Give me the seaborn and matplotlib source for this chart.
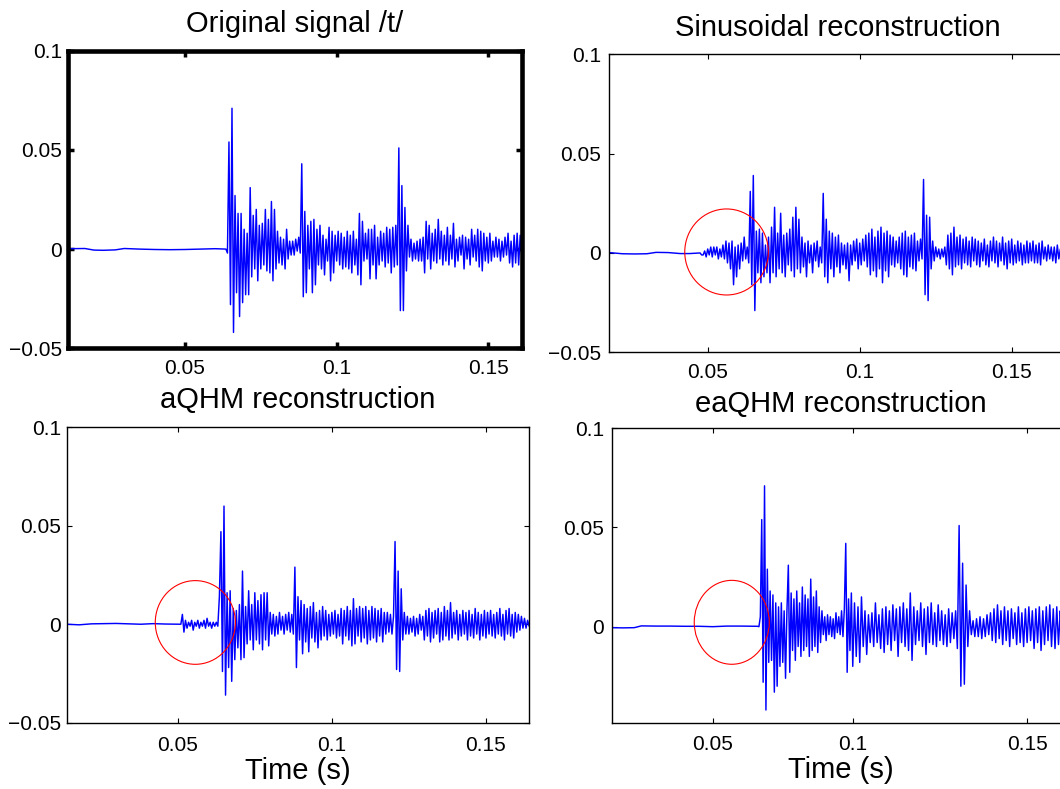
import numpy as np
import pandas as pd
import seaborn as sns
import matplotlib
matplotlib.use("Agg")
import matplotlib.pyplot as plt
from matplotlib.patches import Ellipse
from matplotlib.ticker import MultipleLocator, FuncFormatter

# ---------------------------------------------------------------- data
titles = ["Original signal /t/", "Sinusoidal reconstruction",
          "aQHM reconstruction", "eaQHM reconstruction"]
xlabel_text = "Time (s)"
STEP = 0.0005  # spacing of the traced samples (s); amplitudes below are in 1e-3

# Original signal
orig_quiet_t = [0.0115, 0.017, 0.020, 0.023, 0.027, 0.030, 0.035, 0.040, 0.045, 0.050, 0.055, 0.060, 0.0635]
orig_quiet_mv = [0.2, 0.3, -0.5, -0.6, -0.4, 0.3, 0.0, -0.2, -0.3, -0.2, 0.0, 0.2, 0.0]
orig_start = 0.0635
orig_mv = [0, -2, 54, -28, 71, -42, 27, -22, 18, -34,
           18, -27, 10, -23, 8, -23, 31, -14, 17, -10,
           20, -16, 12, -10, 13, -8, 20, -11, 15, -12,
           24, -16, 20, -10, 9, -7, 6, -8, 5, -10,
           10, -5, 4, -3, 4, -3, 5, -1, 6, -2,
           43, -24, 19, -22, 12, -10, 14, -22, 15, -18,
           10, -8, 12, -10, 7, -13, 5, -6, 11, -16,
           9, -12, 7, -6, 9, -8, 8, -10, 6, -9,
           9, -10, 7, -12, 9, -8, 5, -13, 18, -18,
           14, -6, 8, -5, 10, -15, 10, -8, 12, -15,
           6, -8, 9, -6, 8, -9, 11, -7, 10, -12,
           11, -9, 12, -8, 51, -31, 32, -31, 21, -11,
           12, -4, 5, -6, 3, -5, 4, -6, 5, -6,
           6, -12, 14, -5, 12, -10, 8, -6, 10, -7,
           15, -5, 9, -8, 7, -6, 11, -8, 7, -5,
           13, -9, 5, -6, 6, -3, 7, -10, 6, -5,
           5, -8, 10, -4, 7, -6, 10, -9, 9, -11,
           8, -6, 6, -7, 8, -6, 4, -4, 6, -4,
           5, -6, 4, -4, 6, -3, 8, -7, 4, -9,
           7, -7, 8, -8, 7, -3]

# Sinusoidal reconstruction
sin_quiet_t = [0.0175, 0.022, 0.026, 0.030, 0.033, 0.037, 0.041, 0.044, 0.047]
sin_quiet_mv = [0.2, -0.4, -0.5, -0.4, 0.3, 0.2, -0.3, -0.3, 0.0]
sin_start = 0.0475
sin_mv = [0, -1, -1, 1, -2, 2, -1, 3, -2, 3,
          -1, 3, -3, 2, -2, 4, -3, 6, -5, 5,
          -8, 6, -16, 3, -12, 4, -8, 5, -4, 8,
          -3, 3, -5, 31, -16, 39, -29, 11, -10, 12,
          -15, 10, -12, 4, -10, 8, -15, 13, -10, 23,
          -12, 10, -8, 20, -10, 9, -12, 10, -6, 12,
          -9, 18, -12, 23, -8, 17, -10, 8, -7, 5,
          -12, 6, -5, 4, -10, 5, -4, 6, -7, 3,
          -5, 30, -12, 17, -15, 11, -8, 10, -12, 8,
          -7, 9, -10, 5, -6, 4, -8, 5, -14, 4,
          -6, 6, -4, 7, -8, 5, -6, 7, -4, 9,
          -7, 10, -11, 12, -9, 8, -12, 11, -8, 13,
          -15, 10, -9, 11, -12, 9, -6, 8, -7, 6,
          -5, 8, -8, 10, -11, 11, -12, 8, -7, 9,
          -8, 10, -9, 6, -4, 7, -3, 37, -21, 19,
          -24, 18, -8, 6, -4, 3, -2, 2, -3, 2,
          -2, 3, -6, 9, -8, 10, -11, 13, -7, 8,
          -6, 9, -8, 7, -5, 8, -6, 6, -7, 8,
          -4, 7, -6, 6, -7, 5, -4, 7, -6, 4,
          -7, 6, -4, 8, -5, 6, -7, 5, -4, 8,
          -6, 5, -8, 6, -5, 7, -6, 4, -5, 6,
          -4, 5, -6, 4, -5, 6, -5, 5, -4, 6,
          -5, 4, -5, 5, -6, 6, -3, 3, -4, 4,
          -3, 3, -4, 3, -5, 4, -3, 2]

# aQHM reconstruction
aqhm_quiet_t = [0.014, 0.018, 0.022, 0.026, 0.030, 0.034, 0.038, 0.042, 0.046, 0.051]
aqhm_quiet_mv = [0.0, -0.3, 0.2, 0.3, 0.4, 0.2, 0.0, 0.3, 0.1, 0.0]
aqhm_start = 0.0515
aqhm_mv = [5, -4, 2, -2, 1, -1, 2, -3, 1, -1,
           2, -2, 1, -1, 2, -2, 3, -1, 1, -2,
           1, -1, 1, -1, 14, 47, -24, 60, -36, 16,
           -22, 17, -29, 8, -18, 7, -12, 10, -18, 27,
           -17, 9, -10, 17, -8, 10, -13, 16, -8, 12,
           -10, 15, -13, 16, -8, 16, -11, 6, -5, 5,
           -6, 4, -5, 6, -3, 4, -5, 5, -3, 6,
           -4, 5, -5, 29, -22, 14, -8, 12, -15, 10,
           -9, 8, -14, 9, -7, 11, -9, 6, -12, 7,
           -8, 9, -6, 7, -8, 5, -6, 6, -5, 7,
           -7, 5, -6, 8, -10, 7, -6, 9, -8, 7,
           -11, 13, -10, 8, -6, 9, -9, 8, -7, 9,
           -10, 7, -8, 9, -7, 8, -9, 7, -6, 8,
           -9, 6, -5, 6, -4, 5, -5, 4, 42, -23,
           27, -24, 18, -8, 6, -5, 4, -5, 3, -4,
           4, -6, 3, -5, 5, -3, 4, -8, 7, -6,
           8, -9, 6, -7, 7, -5, 8, -9, 6, -8,
           9, -6, 7, -8, 11, -7, 6, -5, 7, -8,
           5, -6, 7, -5, 6, -8, 7, -6, 5, -7,
           8, -5, 6, -8, 5, -6, 7, -7, 6, -5,
           7, -6, 5, -7, 6, -5, 8, -6, 5, -8,
           7, -5, 8, -6, 5, -7, 6, -4, 5, -3,
           4, -2, 3, -2, 2, -1]

# eaQHM reconstruction
eaqhm_quiet_t = [0.014, 0.018, 0.022, 0.0245, 0.030, 0.035, 0.040, 0.045, 0.050, 0.055, 0.060, 0.066]
eaqhm_quiet_mv = [-0.5, -0.6, -0.5, 0.4, 0.3, 0.3, 0.2, 0.2, 0.0, 0.3, 0.3, 0.2]
eaqhm_start = 0.0665
eaqhm_mv = [0, 5, 54, -28, 71, -42, 29, -18, 18, -17,
            16, -33, 12, -30, 10, -20, 12, -18, 8, -26,
            8, 31, -23, 17, -12, 14, -17, 18, -10, 12,
            -15, 20, -12, 16, -10, 14, -15, 24, -12, 15,
            -10, 18, -13, 10, -8, 8, -4, 5, -7, 6,
            -4, 5, -5, 4, -6, 7, -3, 5, -4, 8,
            -5, 9, 42, -23, 14, -12, 17, -20, 12, -15,
            10, -18, 15, -10, 8, -14, 6, -8, 7, -10,
            12, -8, 6, -11, 9, -13, 10, -9, 8, -12,
            11, -7, 9, -15, 10, -8, 12, -10, 9, -12,
            17, -17, 10, -9, 8, -7, 12, -10, 9, -14,
            10, -8, 12, -9, 7, -10, 11, -7, 8, -9,
            6, -10, 9, -8, 7, -6, 8, -11, 51, -30,
            32, -29, 21, -10, 8, -4, 3, -5, 4, -5,
            5, -6, 4, -5, 6, -4, 7, -7, 9, -8,
            11, -6, 8, -9, 10, -7, 8, -10, 9, -6,
            7, -9, 10, -8, 7, -10, 9, -8, 10, -7,
            8, -11, 9, -8, 10, -12, 8, -9, 10, -7,
            11, -10, 9, -11, 10, -9, 8, -7]

quiet_t = [orig_quiet_t, sin_quiet_t, aqhm_quiet_t, eaqhm_quiet_t]
quiet_mv = [orig_quiet_mv, sin_quiet_mv, aqhm_quiet_mv, eaqhm_quiet_mv]
starts = [orig_start, sin_start, aqhm_start, eaqhm_start]
active_mv = [orig_mv, sin_mv, aqhm_mv, eaqhm_mv]

# red circles (panels 2-4): centre time, centre amplitude, width, height
circle_t = [None, 0.0562, 0.0557, 0.0568]
circle_v = [None, 0.0005, 0.0009, 0.0022]
circle_w = [None, 0.0275, 0.0260, 0.0268]
circle_h = [None, 0.0433, 0.0425, 0.0423]

# ---------------------------------------------------------------- layout
W, H = 1060, 789
# (left, right, top, bottom) in pixels
boxes = [(68.3, 521.7, 50.7, 348.3),
         (609.0, 1066.0, 54.3, 352.3),
         (66.7, 529.3, 427.3, 722.7),
         (612.0, 1070.0, 428.3, 722.7)]
xlims = [(0.01154, 0.1610), (0.01753, 0.16786), (0.01396, 0.16406), (0.01404, 0.1623)]
ylims = [(-0.05, 0.1), (-0.05, 0.1), (-0.05, 0.1), (-0.0484, 0.1)]
title_pads = [13.7, 13.4, 13.7, 12.0]
xtick_pads = [8.0, 7.5, 9.5, 8.5]
ytick_pads = [4.5, 5.5, 4.0, 5.5]

sns.set_theme(style="white")
plt.rcParams["font.family"] = ["Liberation Sans", "DejaVu Sans"]
plt.rcParams["axes.unicode_minus"] = True

fig = plt.figure(figsize=(W / 100, H / 100), dpi=100)
fig.patch.set_facecolor("white")


def fmt(v, pos):
    s = f"{round(v, 6) + 0.0:g}"
    return s.replace("-", "\u2212")


# panel 4 of the reference has unevenly spaced x ticks; reproduce with a
# piecewise-linear axis scale (tick spacing ratio 140 : 174.3)
knot_t = np.array([0.0, 0.05, 0.10, 0.15, 0.25])
knot_p = np.array([0.0, 140.0, 280.0, 454.3, 802.9])


def fwd(x):
    return np.interp(x, knot_t, knot_p)


def inv(p):
    return np.interp(p, knot_p, knot_t)


for k in range(4):
    l, r, t, b = boxes[k]
    ax = fig.add_axes([l / W, 1 - b / H, (r - l) / W, (b - t) / H])
    tt = np.concatenate([quiet_t[k], starts[k] + STEP * np.arange(len(active_mv[k]))])
    vv = np.concatenate([quiet_mv[k], active_mv[k]]) / 1000.0
    df = pd.DataFrame({"t": tt, "v": vv})
    sns.lineplot(data=df, x="t", y="v", ax=ax, color="#0000ff", linewidth=1.05,
                 estimator=None, sort=False, legend=False)
    if k == 3:
        ax.set_xscale("function", functions=(fwd, inv))
    ax.set_xlim(*xlims[k])
    ax.set_ylim(*ylims[k])
    ax.xaxis.set_major_locator(MultipleLocator(0.05))
    ax.yaxis.set_major_locator(MultipleLocator(0.05))
    ax.xaxis.set_minor_locator(matplotlib.ticker.NullLocator())
    ax.xaxis.set_major_formatter(FuncFormatter(fmt))
    ax.yaxis.set_major_formatter(FuncFormatter(fmt))
    ax.set_xlabel("")
    ax.set_ylabel("")
    thick = (k == 0)
    for sp in ax.spines.values():
        sp.set_visible(True)
        sp.set_color("black")
        sp.set_linewidth(3.3 if thick else 1.0)
    ax.tick_params(axis="both", which="major", direction="in",
                   top=True, right=True, bottom=True, left=True,
                   length=4.0 if thick else 3.5, width=2.5 if thick else 0.8,
                   color="black", labelsize=15, labelcolor="black")
    ax.tick_params(axis="x", pad=xtick_pads[k])
    ax.tick_params(axis="y", pad=ytick_pads[k])
    ax.set_title(titles[k], fontsize=21, pad=title_pads[k], color="black")
    if k >= 2:
        ax.set_xlabel(xlabel_text, fontsize=21, labelpad=1.5, color="black")
    if circle_t[k] is not None:
        ax.add_patch(Ellipse((circle_t[k], circle_v[k]), circle_w[k], circle_h[k],
                             fill=False, edgecolor="#ff0000", linewidth=0.8, zorder=5))
    ax.set_facecolor("white")
    ax.grid(False)

fig.savefig("out.png", dpi=100, facecolor="white")
